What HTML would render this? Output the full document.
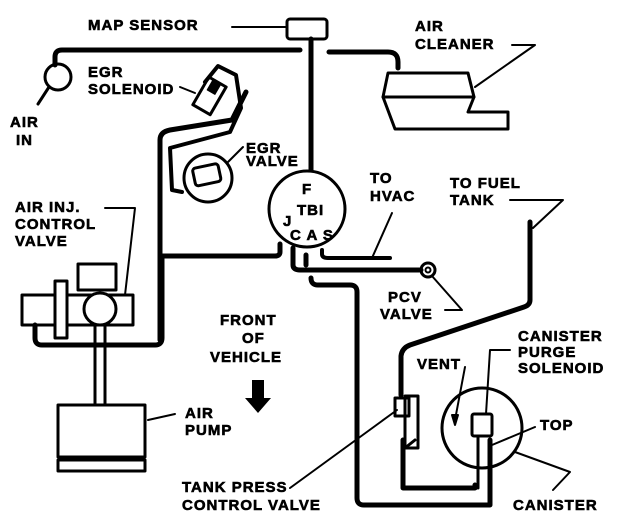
<!DOCTYPE html>
<html><head><meta charset="utf-8"><style>
html,body{margin:0;padding:0;background:#fff;}
svg{display:block;}
text{font-family:"Liberation Sans",Arial,sans-serif;font-weight:bold;fill:#000;stroke:#000;stroke-width:0.6px;font-size:15px;letter-spacing:1px;}
</style></head><body>
<svg width="624" height="518" viewBox="0 0 624 518" xmlns="http://www.w3.org/2000/svg">
<g fill="none" stroke="#000" stroke-linecap="round" stroke-linejoin="round">
<rect x="287" y="19" width="40" height="20" rx="3" stroke-width="3"/>
<line x1="232" y1="27" x2="287" y2="27" stroke-width="2"/>
<line x1="311" y1="39" x2="311" y2="170" stroke-width="5"/>
<path d="M300 50 H62 Q55 50 55 57 V65" stroke-width="5"/>
<circle cx="58" cy="77" r="13" stroke-width="3"/>
<line x1="38" y1="104" x2="49" y2="87" stroke-width="3"/>
<path d="M329 52 H388 Q398 52 398 62 V68" stroke-width="5"/>
<path d="M388 73 H468 L474 97 L468 112 H508 V129 H395 L383 97 Z" stroke-width="3"/>
<line x1="383" y1="97" x2="474" y2="97" stroke-width="3"/>
<path d="M475 87 L535 45 H512" stroke-width="2"/>
<path d="M160 340 V140 Q160 132 170 130 L232 120 L246 92" stroke-width="5"/>
<path d="M182 192 L172 190 L170 148 L230 132 L241 108 L236 75 L218 66 L205 82" stroke-width="4"/>
<g transform="rotate(30 210 95)"><rect x="200" y="80" width="20" height="32" stroke-width="3"/><rect x="205" y="80" width="9" height="12" fill="#000" stroke-width="1"/></g>
<line x1="180" y1="87" x2="195" y2="93" stroke-width="2"/>
<circle cx="208" cy="178" r="24" stroke-width="3"/>
<g transform="rotate(-12 206 176)"><rect x="194" y="166" width="26" height="18" rx="3" stroke-width="3"/></g>
<line x1="228" y1="162" x2="243" y2="147" stroke-width="2"/>
<circle cx="307" cy="209" r="38" stroke-width="3"/>
<path d="M280 244 V252 Q280 256 275 256 H162" stroke-width="5"/>
<path d="M162 256 V338 Q162 345 155 345 H42 Q35 345 35 338 V325" stroke-width="5"/>
<path d="M293 248 V265 Q293 270 300 270 H421" stroke-width="5"/>
<circle cx="428" cy="270" r="7" stroke-width="3"/><circle cx="428" cy="270" r="2.5" stroke-width="2"/>
<path d="M322 250 V254 Q322 258 328 258 H390" stroke-width="4"/>
<line x1="372" y1="258" x2="392" y2="213" stroke-width="2"/>
<path d="M311 278 Q311 285 318 285 H350 Q357 285 357 292 V498 Q357 505 364 505 H490 V440" stroke-width="5"/>
<line x1="306" y1="255" x2="306" y2="265" stroke-width="5"/>
<path d="M432 276 L462 310 H445" stroke-width="2"/>
<rect x="22" y="295" width="111" height="30" stroke-width="3"/>
<rect x="55" y="281" width="12" height="57" fill="#fff" stroke-width="3"/>
<rect x="78" y="264" width="38" height="26" fill="#fff" stroke-width="3"/>
<circle cx="100" cy="309" r="16" fill="#fff" stroke-width="3"/>
<line x1="95" y1="325" x2="95" y2="405" stroke-width="3"/>
<line x1="105" y1="325" x2="105" y2="405" stroke-width="3"/>
<path d="M105 208 H135 L125 295" stroke-width="2"/>
<rect x="58" y="405" width="87" height="52" stroke-width="3"/>
<rect x="58" y="460" width="87" height="11" stroke-width="3"/>
<line x1="148" y1="420" x2="175" y2="414" stroke-width="2"/>
<path d="M530 222 V300 Q530 305 524 307 L410 345 Q402 348 401 356 V395" stroke-width="5"/>
<path d="M510 200 H563 L533 228" stroke-width="2"/>
<path d="M403 440 V488 H475 V485" stroke-width="5"/>
<rect x="395" y="398" width="14" height="18" stroke-width="3"/>
<rect x="405" y="396" width="13" height="52" stroke-width="3"/>
<path d="M405 448 L415 440" stroke-width="3"/>
<line x1="290" y1="488" x2="397" y2="410" stroke-width="2"/>
<circle cx="482" cy="428" r="40" stroke-width="3"/>
<rect x="472" y="414" width="20" height="22" rx="2" fill="#fff" stroke-width="3"/>
<line x1="478" y1="436" x2="478" y2="488" stroke-width="3"/>
<path d="M510 350 H490 L486 414" stroke-width="2"/>
<path d="M465 367 L455 420" stroke-width="2"/>
<path d="M455 425 L452 415 L458 415 Z" fill="#000" stroke-width="2"/>
<line x1="492" y1="445" x2="535" y2="427" stroke-width="2"/>
<path d="M515 452 L570 472 L553 490" stroke-width="2"/>
</g>
<path d="M252 380 H264 V398 H271 L258 413 L245 398 H252 Z" fill="#000"/>
<text x="88" y="30">MAP SENSOR</text>
<text x="415" y="31">AIR</text><text x="415" y="49">CLEANER</text>
<text x="88" y="77" font-size="13">EGR</text><text x="88" y="94" font-size="13">SOLENOID</text>
<text x="10" y="127">AIR</text><text x="16" y="145">IN</text>
<text x="246" y="153" font-size="11">EGR</text><text x="246" y="166" font-size="11">VALVE</text>
<text x="302" y="194" font-size="10">F</text><text x="297" y="215" font-size="10">TBI</text>
<text x="283" y="226" font-size="10">J</text><text x="290" y="240" font-size="11">C A S</text>
<text x="370" y="183">TO</text><text x="370" y="201">HVAC</text>
<text x="450" y="188">TO FUEL</text><text x="450" y="205">TANK</text>
<text x="15" y="212">AIR INJ.</text><text x="15" y="229">CONTROL</text><text x="15" y="246">VALVE</text>
<text x="220" y="325">FRONT</text><text x="242" y="343">OF</text><text x="210" y="362">VEHICLE</text>
<text x="388" y="302">PCV</text><text x="380" y="319">VALVE</text>
<text x="518" y="341" font-size="14">CANISTER</text><text x="518" y="357" font-size="14">PURGE</text><text x="518" y="373" font-size="14">SOLENOID</text>
<text x="417" y="369" font-size="10">VENT</text>
<text x="540" y="430">TOP</text>
<text x="185" y="418">AIR</text><text x="185" y="435">PUMP</text>
<text x="182" y="492" font-size="14">TANK PRESS</text><text x="182" y="510" font-size="14">CONTROL VALVE</text>
<text x="513" y="510">CANISTER</text>
</svg>
</body></html>
